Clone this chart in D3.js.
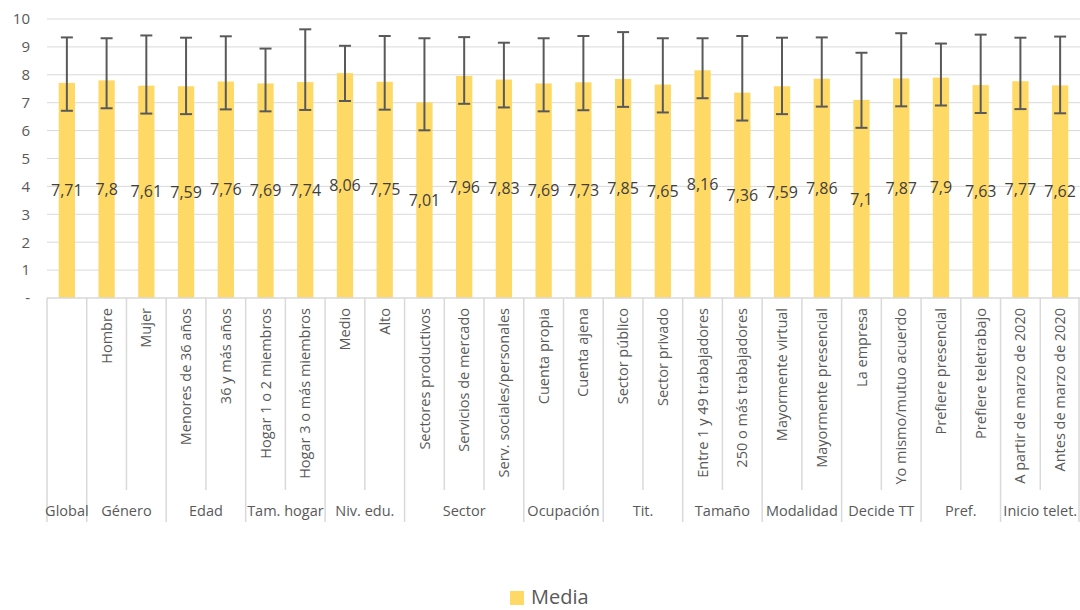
<!DOCTYPE html>
<html>
<head>
<meta charset="utf-8">
<script src="https://cdn.jsdelivr.net/npm/d3@7"></script>
<style>
  body { margin: 0; background: #fff; }
  text { font-family: "Open Sans", "Noto Sans", sans-serif; }
</style>
</head>
<body>
<div id="chart-area"></div>
<script>
const categories = [
  "", "Hombre", "Mujer", "Menores de 36 años", "36 y más años",
  "Hogar 1 o 2 miembros", "Hogar 3 o más miembros", "Medio", "Alto",
  "Sectores productivos", "Servicios de mercado", "Serv. sociales/personales",
  "Cuenta propia", "Cuenta ajena", "Sector público", "Sector privado",
  "Entre 1 y 49 trabajadores", "250 o más trabajadores",
  "Mayormente virtual", "Mayormente presencial", "La empresa",
  "Yo mismo/mutuo acuerdo", "Prefiere presencial", "Prefiere teletrabajo",
  "A partir de marzo de 2020", "Antes de marzo de 2020"
];
const groups = [
  "Global", "Género", "Edad", "Tam. hogar", "Niv. edu.", "Sector", "Ocupación",
  "Tit.", "Tamaño", "Modalidad", "Decide TT", "Pref.", "Inicio telet."
];
const groupSizes = [1, 2, 2, 2, 2, 3, 2, 2, 2, 2, 2, 2, 2];
const media = [
  7.71, 7.8, 7.61, 7.59, 7.76, 7.69, 7.74, 8.06, 7.75, 7.01, 7.96, 7.83,
  7.69, 7.73, 7.85, 7.65, 8.16, 7.36, 7.59, 7.86, 7.1, 7.87, 7.9, 7.63, 7.77, 7.62
];
const errUp = [
  1.63, 1.51, 1.80, 1.74, 1.62, 1.25, 1.89, 0.98, 1.64, 2.30, 1.39, 1.32,
  1.62, 1.66, 1.68, 1.66, 1.15, 2.03, 1.74, 1.48, 1.69, 1.62, 1.22, 1.81, 1.56, 1.75
];
const errDown = 1;
const yTicks = [0, 1, 2, 3, 4, 5, 6, 7, 8, 9, 10];

const W = 1080, H = 610;
const plot = { left: 47, right: 1080, top: 19, bottom: 298 };

const svg = d3.select("#chart-area")
  .append("svg")
    .attr("width", W)
    .attr("height", H);

const x = d3.scaleBand()
  .domain(d3.range(categories.length))
  .range([plot.left, plot.right])
  .padding(0);

const y = d3.scaleLinear()
  .domain([0, 10])
  .range([plot.bottom, plot.top]);

// gridlines
svg.append("g")
  .selectAll("line")
  .data(yTicks.filter(d => d > 0))
  .enter().append("line")
    .attr("x1", plot.left)
    .attr("x2", plot.right)
    .attr("y1", d => y(d))
    .attr("y2", d => y(d))
    .attr("stroke", "#d9d9d9")
    .attr("stroke-width", 1);

// y axis labels
const yAxis = d3.axisLeft(y)
  .tickValues(yTicks)
  .tickSize(0)
  .tickPadding(0)
  .tickFormat(d => d === 0 ? "-" : d);

const yAxisGroup = svg.append("g")
  .attr("transform", `translate(30, 0)`)
  .call(yAxis);
yAxisGroup.select(".domain").remove();
yAxisGroup.selectAll("text")
  .attr("font-size", "15px")
  .attr("fill", "#595959")
  .style("font-family", "'Open Sans', sans-serif");

// bars
const barW = x.bandwidth() * 0.41;
const cx = i => x(i) + x.bandwidth() / 2;

svg.append("g")
  .selectAll("rect")
  .data(media)
  .enter().append("rect")
    .attr("x", (d, i) => cx(i) - barW / 2)
    .attr("y", d => y(d))
    .attr("width", barW)
    .attr("height", d => plot.bottom - y(d))
    .attr("fill", "#ffd966");

// error bars
const err = svg.append("g")
  .attr("stroke", "#595959")
  .attr("stroke-width", 2);

media.forEach((d, i) => {
  const hi = y(d + errUp[i]);
  const lo = y(d - errDown);
  err.append("line")
    .attr("x1", cx(i)).attr("x2", cx(i))
    .attr("y1", hi).attr("y2", lo);
  [hi, lo].forEach(v => {
    err.append("line")
      .attr("x1", cx(i) - 6).attr("x2", cx(i) + 6)
      .attr("y1", v).attr("y2", v);
  });
});

// value labels (centered in bar)
svg.append("g")
  .selectAll("text")
  .data(media)
  .enter().append("text")
    .attr("x", (d, i) => cx(i))
    .attr("y", d => y(d / 2))
    .attr("dy", "0.35em")
    .attr("text-anchor", "middle")
    .attr("font-size", "16px")
    .attr("fill", "#404040")
    .text(d => String(d).replace(".", ","));

// category axis
const axis = svg.append("g");
axis.append("line")
  .attr("x1", plot.left).attr("x2", plot.right)
  .attr("y1", plot.bottom).attr("y2", plot.bottom)
  .attr("stroke", "#d9d9d9")
  .attr("stroke-width", 1.5);

const groupStarts = [];
let acc = 0;
groupSizes.forEach(n => { groupStarts.push(acc); acc += n; });

// separators
d3.range(categories.length + 1).forEach(i => {
  const isGroup = groupStarts.includes(i) || i === categories.length;
  const xp = i === categories.length ? plot.right - 1 : x(i);
  axis.append("line")
    .attr("x1", xp).attr("x2", xp)
    .attr("y1", plot.bottom)
    .attr("y2", isGroup ? 522 : 490)
    .attr("stroke", "#d9d9d9")
    .attr("stroke-width", 1.5);
});

// category labels
axis.selectAll(".cat")
  .data(categories)
  .enter().append("text")
    .attr("class", "cat")
    .attr("transform", (d, i) => `translate(${cx(i)}, 308) rotate(-90)`)
    .attr("dy", "0.35em")
    .attr("text-anchor", "end")
    .attr("font-size", "14.5px")
    .attr("fill", "#595959")
    .text(d => d);

// group labels
axis.selectAll(".grp")
  .data(groups)
  .enter().append("text")
    .attr("class", "grp")
    .attr("x", (d, i) => {
      const s = groupStarts[i];
      return (x(s) + x(s + groupSizes[i] - 1) + x.bandwidth()) / 2;
    })
    .attr("y", 511)
    .attr("dy", "0.35em")
    .attr("text-anchor", "middle")
    .attr("font-size", "14.5px")
    .attr("fill", "#595959")
    .text(d => d);

// legend
const legend = svg.append("g")
  .attr("transform", "translate(510, 591)");
legend.append("rect")
  .attr("width", 14)
  .attr("height", 14)
  .attr("fill", "#ffd966");
legend.append("text")
  .attr("x", 21)
  .attr("y", 6)
  .attr("dy", "0.35em")
  .attr("font-size", "20px")
  .attr("fill", "#595959")
  .text("Media");
</script>
</body>
</html>
